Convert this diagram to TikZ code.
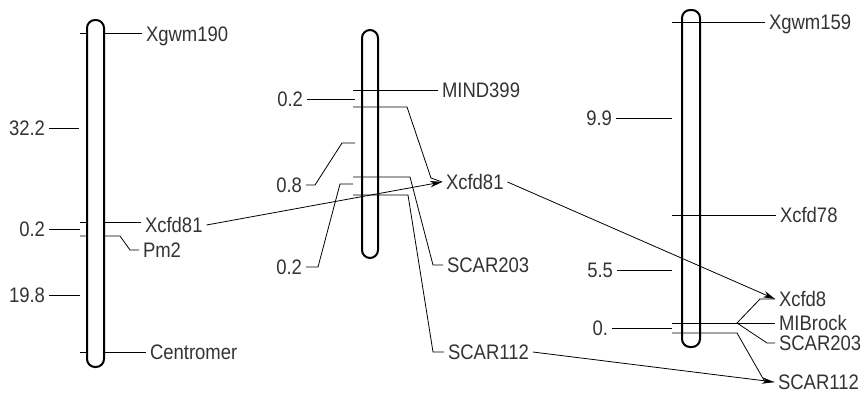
\documentclass[tikz,border=0pt]{standalone}
\usepackage{fontspec}
\setmainfont{Liberation Sans}[FakeStretch=0.88]
\usetikzlibrary{arrows.meta}
\definecolor{inkgray}{HTML}{333333}
\begin{document}
\begin{tikzpicture}[x=1pt, y=-1pt, line width=0.8pt,
    every node/.style={font=\fontsize{21}{24}\selectfont, text=inkgray, inner sep=0pt, outer sep=4pt, text height=15pt, text depth=0pt},
    marker/.style={anchor=west},
    dist/.style={anchor=east},
    chrom/.style={line width=2pt, rounded corners=8pt},
    link/.style={-{Stealth[length=12pt, width=6.5pt]}}]
    \useasboundingbox (0,0) rectangle (866,394);

    \node[marker] (Ma) at (142,34) {Xgwm190};
    \node[marker] (Mb) at (141,225) {Xcfd81};
    \node[marker] (Mc) at (139,250) {Pm2};
    \node[marker] (Md) at (146,352) {Centromer};
    \node[dist] (Da) at (49,128) {32.2};
    \node[dist] (Db) at (49,229) {0.2};
    \node[dist] (Dc) at (49,295) {19.8};
    \draw (80,33) -- (80,33 -| Ma.west);
    \draw (80,222) -- (80,222 -| Mb.west);
    \draw (80,236) -- (120,236) -- (130,250) -- (Mc.west);
    \draw (80,352) -- (Md.west);
    \draw (Da.east) -- (79,128);
    \draw (Db.east) -- (80,229);
    \draw (Dc.east) -- (80,295);
    \draw[chrom, fill=white] (87,20) rectangle (104,367);

    \node[marker] (Na) at (438,90) {MIND399};
    \node[marker] (Nb) at (442,182) {Xcfd81};
    \node[marker] (Nc) at (443,265) {SCAR203};
    \node[marker] (Nd) at (444,352) {SCAR112};
    \node[dist] (Ea) at (307,99) {0.2};
    \node[dist] (Eb) at (306,185) {0.8};
    \node[dist] (Ec) at (306,267) {0.2};
    \draw (353,90) -- (Na.west);
    \draw (353,107) -- (407,107) -- (431,178) -- (Nb.west);
    \draw (353,177) -- (410,177) -- (433,265) -- (Nc.west);
    \draw (353,195) -- (408,195) -- (433,352) -- (Nd.west);
    \draw (Ea.east) -- (355,99);
    \draw (Eb.east) -- (315,185) -- (342,143) -- (355,143);
    \draw (Ec.east) -- (318,267) -- (340,184) -- (353,184);
    \draw[chrom] (362,30) rectangle (378,258);

    \node[marker] (Oa) at (765,22) {Xgwm159};
    \node[marker] (Ob) at (776,215) {Xcfd78};
    \node[marker] (Oc) at (775,299) {Xcfd8};
    \node[marker] (Od) at (775,323) {MIBrock};
    \node[marker] (Oe) at (775,343) {SCAR203};
    \node[marker] (Of) at (774,382) {SCAR112};
    \node[dist] (Fa) at (616,118) {9.9};
    \node[dist] (Fb) at (617,270) {5.5};
    \node[dist] (Fc) at (612,328) {0.};
    \coordinate (fork) at (737,323);
    \draw (672,22) -- (Oa.west);
    \draw (672,215) -- (Ob.west);
    \draw (672,323) -- (Od.west);
    \draw (fork) -- (760,299) -- (Oc.west);
    \draw (fork) -- (767,343) -- (Oe.west);
    \draw (672,333) -- (737,333) -- (765,382) -- (Of.west);
    \draw (Fa.east) -- (672,118);
    \draw (Fb.east) -- (672,270);
    \draw (Fc.east) -- (672,328);
    \draw[chrom] (682,10) rectangle (700,347);

    \draw[link] (Mb.east) -- (Nb.west);
    \draw[link] (Nb.east) -- (Oc.west);
    \draw[link] (Nd.east) -- (Of.west);
\end{tikzpicture}
\end{document}
